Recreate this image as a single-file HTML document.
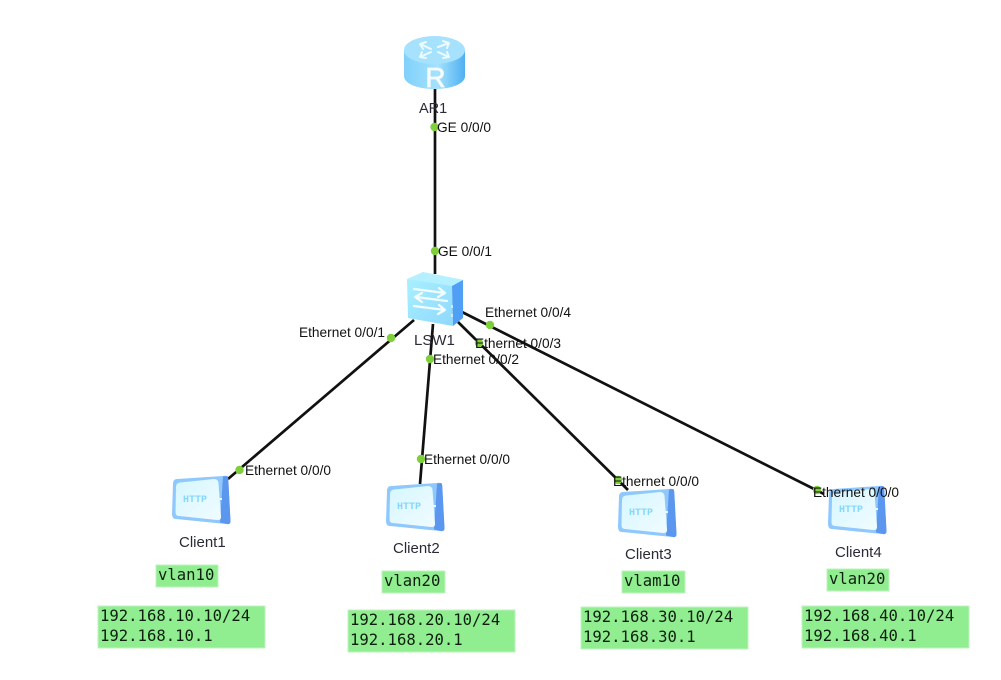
<!DOCTYPE html>
<html><head><meta charset="utf-8"><style>
html,body{margin:0;padding:0;background:#fff;width:1001px;height:680px;overflow:hidden}
svg{display:block;filter:blur(.35px)}
.l{font-family:"Liberation Sans",sans-serif;font-size:13.7px;fill:#111}
.n{font-family:"Liberation Sans",sans-serif;font-size:15px;fill:#2a2b38}
.m{font-family:"DejaVu Sans Mono","Liberation Mono",monospace;font-size:15.6px;fill:#0f1f0f}
.h{font-family:"Liberation Mono",monospace;font-size:10px;fill:#86d8fb;font-weight:bold}
</style></head><body>
<svg width="1001" height="680" viewBox="0 0 1001 680" xmlns="http://www.w3.org/2000/svg">
<defs>
<linearGradient id="rt" x1="0" x2="1" y1="0" y2="0"><stop offset="0" stop-color="#7fd0fb"/><stop offset=".55" stop-color="#a5e2fd"/><stop offset="1" stop-color="#4fb0f2"/></linearGradient>
<linearGradient id="sw" x1="0" x2="1" y1="0" y2="1"><stop offset="0" stop-color="#a8f0ff"/><stop offset="1" stop-color="#8fd8fd"/></linearGradient>
<linearGradient id="sc" x1="0" x2="1" y1="0" y2="1"><stop offset="0" stop-color="#d6f6ff"/><stop offset="1" stop-color="#f0fcff"/></linearGradient>
<g id="client">
<path d="M6 4 L52 1 Q56 0 57 3 L59.500 46 Q60 50 55 49 L5 44 Q1 44 1 39 L2 9 Q2 4 6 4 Z" fill="#8fc8fc"/>
<path d="M52 1.500 L56 1 Q57 1 57.300 4 L59.500 46 Q59.500 49.500 56 49 L49 47.500 Z" fill="#5b96ef"/>
<path d="M9 7.500 L43 4 Q47 4 47.500 8 L50 41 Q50.500 45.500 46 45 L8 41 Q4.500 41 4.500 37 L5 12 Q5 8 9 7.500 Z" fill="url(#sc)"/>
<rect x="48" y="23" width="3" height="2" fill="#e8faff"/>
<text class="h" x="12" y="27">HTTP</text>
</g>
</defs>

<g stroke="#111" stroke-width="2.7" fill="none">
<line x1="435" y1="85" x2="435" y2="274"/>
<line x1="414" y1="320" x2="228" y2="479"/>
<line x1="433" y1="324" x2="420" y2="484"/>
<line x1="458" y1="322" x2="628" y2="490"/>
<line x1="462" y1="312" x2="824" y2="494"/>
</g>

<!-- router -->
<path d="M404 51 V76 C404 84 418 89 434.500 89 C451 89 465 84 465 76 V51 Z" fill="url(#rt)"/>
<ellipse cx="434.500" cy="50" rx="30.500" ry="14" fill="#a6e2fd"/>
<g stroke="#eefaff" stroke-width="2" fill="none" stroke-linecap="round" stroke-linejoin="round">
<path d="M420 44 L431 49 M420 44 L423 49 M420 44 L426 42"/>
<path d="M449 43 L438 47 M449 43 L443 41 M449 43 L447 48"/>
<path d="M420 57 L431 52 M420 57 L426 58 M420 57 L422 52"/>
<path d="M449 57 L438 52 M449 57 L443 58 M449 57 L447 52"/>
</g>
<text x="435.500" y="87" text-anchor="middle" font-family="Liberation Sans,sans-serif" font-size="28" fill="#f4fcff" stroke="#f4fcff" stroke-width=".7">R</text>

<!-- switch -->
<path d="M407 279 L423 272 L464 280 L452 287 Z" fill="#b4f0ff"/>
<path d="M407 279 L452 286 L453 326 L408 318 Z" fill="url(#sw)"/>
<path d="M452 286 L463 280 L463 318 L453 326 Z" fill="#4f9ff5"/>
<g stroke="#f4fdff" stroke-width="2.200" fill="none" stroke-linecap="round" stroke-linejoin="round">
<path d="M414 289 L445 293 M439 288 L445 293 L438 297"/>
<path d="M447 301 L416 297 M422 293 L415 297 L422 302"/>
<path d="M414 306 L445 310 M439 305 L445 310 L438 314"/>
</g>
<rect x="451" y="305" width="2" height="3" fill="#cfe8f2"/>
<rect x="451" y="314" width="2" height="3" fill="#cfe8f2"/>

<!-- clients -->
<use href="#client" x="171" y="475"/>
<use href="#client" x="385" y="482"/>
<use href="#client" x="617" y="488"/>
<use href="#client" x="827" y="485"/>

<!-- port dots -->
<g fill="#7fcf3a">
<circle cx="434.500" cy="127" r="4.200"/>
<circle cx="435" cy="251" r="4.200"/>
<circle cx="391" cy="338" r="4.200"/>
<circle cx="239.500" cy="470" r="4.200"/>
<circle cx="430" cy="359" r="4.200"/>
<circle cx="421" cy="459" r="4.200"/>
<circle cx="479" cy="343" r="4.200"/>
<circle cx="618" cy="480" r="4.200"/>
<circle cx="490" cy="325" r="4.200"/>
<circle cx="817" cy="490" r="4.200"/>
</g>

<!-- labels -->
<text class="l" x="437" y="132">GE 0/0/0</text>
<text class="l" x="438" y="256">GE 0/0/1</text>
<text class="l" x="485" y="317">Ethernet 0/0/4</text>
<text class="l" x="299" y="337">Ethernet 0/0/1</text>
<text class="l" x="475" y="348">Ethernet 0/0/3</text>
<text class="l" x="433" y="364">Ethernet 0/0/2</text>
<text class="l" x="245" y="475">Ethernet 0/0/0</text>
<text class="l" x="424" y="464">Ethernet 0/0/0</text>
<text class="l" x="613" y="486">Ethernet 0/0/0</text>
<text class="l" x="813" y="497">Ethernet 0/0/0</text>
<text class="n" x="419" y="113" style="font-size:14.5px">AR1</text>
<text class="n" x="414" y="345">LSW1</text>
<text class="n" x="179" y="547">Client1</text>
<text class="n" x="393" y="553">Client2</text>
<text class="n" x="625" y="559">Client3</text>
<text class="n" x="835" y="557">Client4</text>

<!-- note boxes -->
<g fill="#90ee90" stroke="#bff3bf" stroke-width="1">
<rect x="156" y="565" width="62" height="22"/>
<rect x="98" y="606" width="167" height="42"/>
<rect x="382" y="571" width="63" height="22"/>
<rect x="348" y="610" width="167" height="42"/>
<rect x="622" y="571" width="63" height="22"/>
<rect x="581" y="607" width="167" height="42"/>
<rect x="827" y="569" width="62" height="22"/>
<rect x="802" y="606" width="167" height="42"/>
</g>
<text class="m" x="158" y="580">vlan10</text>
<text class="m" x="100" y="621">192.168.10.10/24</text>
<text class="m" x="100" y="641">192.168.10.1</text>
<text class="m" x="384" y="586">vlan20</text>
<text class="m" x="350" y="625">192.168.20.10/24</text>
<text class="m" x="350" y="645">192.168.20.1</text>
<text class="m" x="624" y="586">vlam10</text>
<text class="m" x="583" y="622">192.168.30.10/24</text>
<text class="m" x="583" y="642">192.168.30.1</text>
<text class="m" x="829" y="584">vlan20</text>
<text class="m" x="804" y="621">192.168.40.10/24</text>
<text class="m" x="804" y="641">192.168.40.1</text>
</svg>
</body></html>
